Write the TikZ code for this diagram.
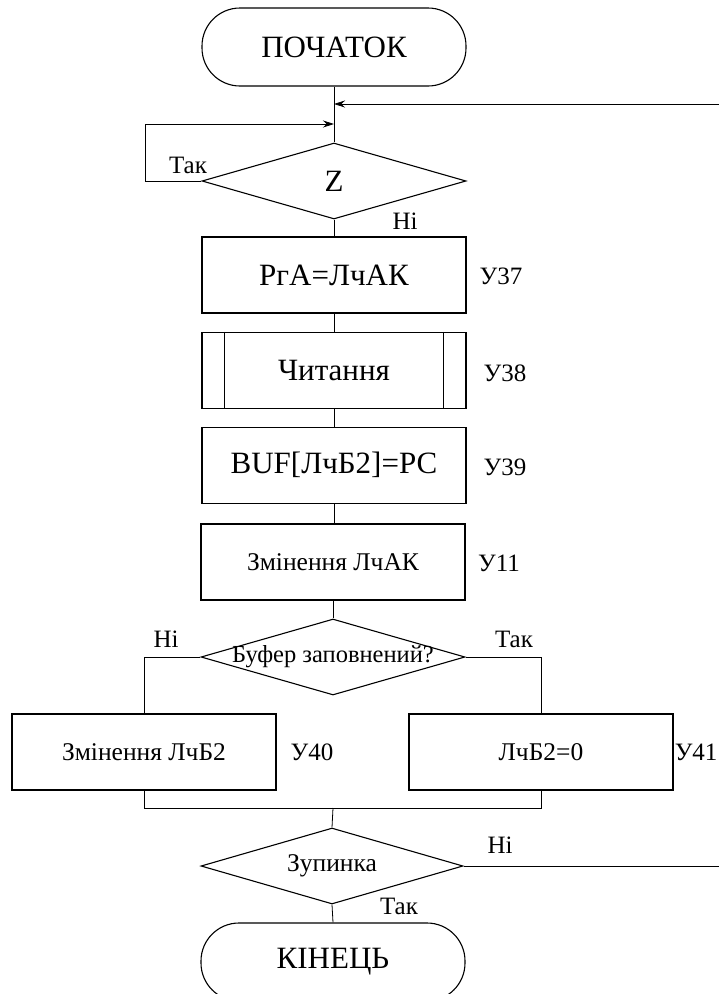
\documentclass[tikz,border=0pt]{standalone}
\usepackage{fontspec}
\setmainfont{Liberation Serif}
\usetikzlibrary{shapes.geometric,arrows.meta}
\begin{document}
\begin{tikzpicture}[x=1pt,y=-1pt,
  big/.style={font=\fontsize{31}{33}\selectfont},
  mid/.style={font=\fontsize{25.5}{27}\selectfont},
  sm/.style={font=\fontsize{24.5}{26}\selectfont},
  tag/.style={font=\fontsize{25}{27}\selectfont},
  yn/.style={font=\fontsize{25}{27}\selectfont},
  shp/.style={draw, line width=1.1pt, inner sep=0pt},
  term/.style={shp, rectangle, rounded corners=38pt, minimum width=264pt, minimum height=78pt, big},
  proc/.style={shp, rectangle, minimum width=264pt, minimum height=76pt, big},
  dec/.style={shp, diamond, minimum width=264pt, minimum height=76pt},
  con/.style={line width=0.8pt},
  arr/.style={con, -{Stealth[length=11pt,width=7pt]}}
]
\clip (0,0) rectangle (719,994);
\node[term] (start) at (334,47) {ПОЧАТОК};
\node[dec, label={[big]center:Z}] (z) at (334,181) {};
\node[proc] (b37) at (334,275) {РгА=ЛчАК};
\node[proc] (b38) at (334,370.5) {Читання};
\node[proc] (b39) at (334,465.3) {BUF[ЛчБ2]=РС};
\node[proc, mid] (b11) at (333,562) {Змінення ЛчАК};
\node[dec, label={[sm]center:Буфер заповнений?}] (buf) at (333,657) {};
\node[proc, mid] (b40) at (144,752) {Змінення ЛчБ2};
\node[proc, mid] (b41) at (541,752) {ЛчБ2=0};
\node[dec, minimum width=262pt, label={[mid]center:Зупинка}] (stop) at (332,866) {};
\node[term] (end) at (333,962) {КІНЕЦЬ};
% inner lines of the subroutine box
\draw[line width=1.1pt] ([xshift=23pt]b38.north west) -- ([xshift=23pt]b38.south west);
\draw[line width=1.1pt] ([xshift=-23pt]b38.north east) -- ([xshift=-23pt]b38.south east);
% side labels
\node[tag] (l37) at (501,276) {У37};
\node[tag] (l38) at (505,373) {У38};
\node[tag] (l39) at (505,467) {У39};
\node[tag] (l11) at (499,563) {У11};
\node[tag] (l40) at (312,752) {У40};
\node[tag, anchor=east] (l41) at (721,752) {У41};
% yes / no labels
\node[yn] (t1) at (188,165) {Так};
\node[yn] (n1) at (405,221) {Ні};
\node[yn] (n2) at (166,639) {Ні};
\node[yn] (t2) at (514,639) {Так};
\node[yn] (n3) at (500,845) {Ні};
\node[yn] (t3) at (399,906) {Так};
% connectors
\coordinate (rin) at (719,104);
\coordinate (loopc) at (145,124);
\coordinate (merge) at (333,808);
\coordinate (rout) at (719,866);
\draw[con] (start.south) -- (z.north);
\draw[arr] (rin) -- (rin -| start.south);
\draw[arr] (z.west) -- (z.west -| loopc) -- (loopc) -- (loopc -| start.south);
\draw[con] (z.south) -- (b37.north);
\draw[con] (b37.south) -- (b38.north);
\draw[con] (b38.south) -- (b39.north);
\draw[con] (b39.south) -- (b39.south |- b11.north);
\draw[con] (b11.south) -- (buf.north);
\draw[con] (buf.west) -| (b40.north);
\draw[con] (buf.east) -| (b41.north);
\draw[con] (b40.south) |- (merge) -| (b41.south);
\draw[con] (merge) -- (stop.north);
\draw[con] (stop.east) -- (rout);
\draw[con] (stop.south) -- (end.north);
\end{tikzpicture}
\end{document}
